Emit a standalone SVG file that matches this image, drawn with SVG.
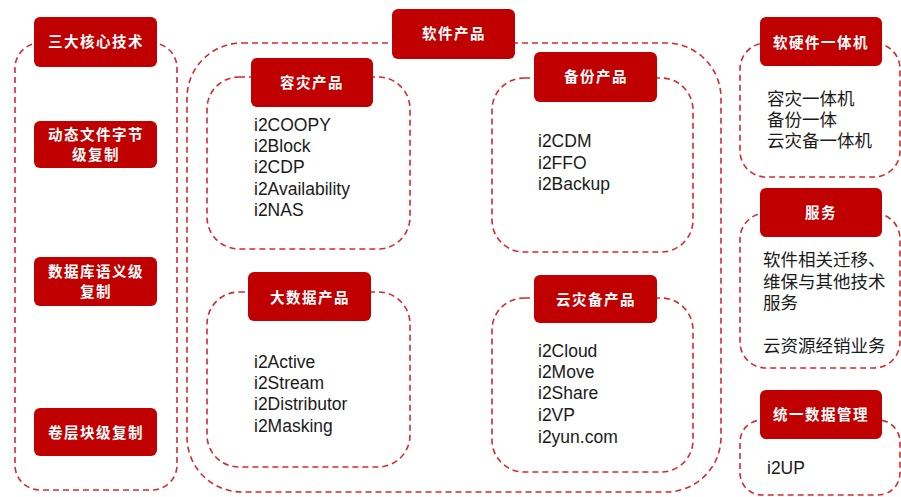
<svg xmlns="http://www.w3.org/2000/svg" width="901" height="497" viewBox="0 0 901 497">
<style>
.dash{fill:none;stroke:#d42a2e;stroke-width:1.6;stroke-dasharray:6 4}
.box{fill:#c00000}
.lbl{fill:#ffffff;font-family:"Noto Sans CJK SC",sans-serif;font-weight:bold;font-size:14.5px;letter-spacing:1.5px;text-anchor:middle}
.en{fill:#1a1a1a;font-family:"Liberation Sans",Arial,sans-serif;font-size:17.5px}
.cn{fill:#1a1a1a;font-family:"Liberation Sans","Noto Sans CJK SC",sans-serif;font-size:17.5px}
</style>
<rect width="901" height="497" fill="#ffffff"/>
<g id="containers">
<rect class="dash" x="15" y="43" width="162" height="447" rx="25"/>
<rect class="dash" x="187" y="43" width="534" height="449" rx="55"/>
<rect class="dash" x="207" y="77" width="203" height="172" rx="32"/>
<rect class="dash" x="207" y="292" width="203" height="175" rx="32"/>
<rect class="dash" x="492" y="78" width="201" height="174" rx="32"/>
<rect class="dash" x="492" y="298" width="201" height="174" rx="32"/>
<rect class="dash" x="740" y="43" width="160" height="134" rx="26"/>
<rect class="dash" x="740" y="213" width="160" height="155" rx="26"/>
<rect class="dash" x="740" y="420" width="160" height="75" rx="22"/>
</g>
<g id="core">
<rect class="box" x="34" y="17" width="123" height="50" rx="6"/>
<text class="lbl" x="96" y="47">三大核心技术</text>
</g>
<g id="core1">
<rect class="box" x="34" y="121" width="123" height="47" rx="6"/>
<text class="lbl" x="96" y="140">动态文件字节</text>
<text class="lbl" x="96" y="160">级复制</text>
</g>
<g id="core2">
<rect class="box" x="34" y="257" width="123" height="49" rx="6"/>
<text class="lbl" x="96" y="277">数据库语义级</text>
<text class="lbl" x="96" y="297">复制</text>
</g>
<g id="core3">
<rect class="box" x="34" y="408" width="123" height="48" rx="6"/>
<text class="lbl" x="96" y="438">卷层块级复制</text>
</g>
<g id="software">
<rect class="box" x="392" y="9" width="123" height="50" rx="6"/>
<text class="lbl" x="454" y="39">软件产品</text>
</g>
<g id="dr">
<rect class="box" x="251" y="58" width="122" height="49" rx="6"/>
<text class="lbl" x="312" y="88">容灾产品</text>
<text class="en" x="254" y="131">i2COOPY</text>
<text class="en" x="254" y="152">i2Block</text>
<text class="en" x="254" y="173">i2CDP</text>
<text class="en" x="254" y="195">i2Availability</text>
<text class="en" x="254" y="216">i2NAS</text>
</g>
<g id="bigdata">
<rect class="box" x="248" y="272" width="123" height="49" rx="6"/>
<text class="lbl" x="310" y="303">大数据产品</text>
<text class="en" x="254" y="368">i2Active</text>
<text class="en" x="254" y="389">i2Stream</text>
<text class="en" x="254" y="410">i2Distributor</text>
<text class="en" x="254" y="432">i2Masking</text>
</g>
<g id="backup">
<rect class="box" x="534" y="52" width="123" height="50" rx="6"/>
<text class="lbl" x="596" y="82">备份产品</text>
<text class="en" x="538" y="147">i2CDM</text>
<text class="en" x="538" y="169">i2FFO</text>
<text class="en" x="538" y="190">i2Backup</text>
</g>
<g id="cloud">
<rect class="box" x="534" y="275" width="123" height="48" rx="6"/>
<text class="lbl" x="596" y="305">云灾备产品</text>
<text class="en" x="538" y="357">i2Cloud</text>
<text class="en" x="538" y="378">i2Move</text>
<text class="en" x="538" y="399">i2Share</text>
<text class="en" x="538" y="421">i2VP</text>
<text class="en" x="538" y="443">i2yun.com</text>
</g>
<g id="hardware">
<rect class="box" x="760" y="17" width="122" height="49" rx="6"/>
<text class="lbl" x="821" y="48">软硬件一体机</text>
<text class="cn" x="767" y="105">容灾一体机</text>
<text class="cn" x="767" y="126">备份一体</text>
<text class="cn" x="767" y="147">云灾备一体机</text>
</g>
<g id="service">
<rect class="box" x="760" y="188" width="122" height="49" rx="6"/>
<text class="lbl" x="821" y="218">服务</text>
<text class="cn" x="763" y="266">软件相关迁移、</text>
<text class="cn" x="763" y="288">维保与其他技术</text>
<text class="cn" x="763" y="309">服务</text>
<text class="cn" x="763" y="352">云资源经销业务</text>
</g>
<g id="udm">
<rect class="box" x="760" y="390" width="122" height="49" rx="6"/>
<text class="lbl" x="821" y="420">统一数据管理</text>
<text class="en" x="767" y="474">i2UP</text>
</g>
<g id="connectors"></g>
</svg>
